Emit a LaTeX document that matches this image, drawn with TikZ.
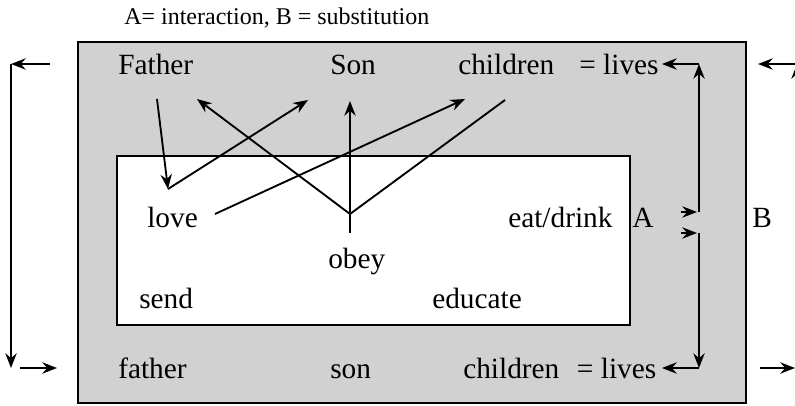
\documentclass[tikz,border=0pt]{standalone}
\usepackage{fontspec}
\setmainfont{Liberation Serif}
\usetikzlibrary{arrows.meta}
\begin{document}
\begin{tikzpicture}[
    x=0.75pt, y=-0.75pt,
    word/.style={inner sep=0pt, anchor=base west, font=\fontsize{22}{26}\selectfont},
    arr/.style={-{Stealth[length=11pt,width=8.5pt]}, line width=1.4pt},
    plain/.style={line width=1.4pt}
]
\useasboundingbox (0,0) rectangle (795,406);

% Boxes
\draw[line width=0.9pt, fill=black!18] (78,42) rectangle (746,403);
\draw[line width=1.4pt, fill=white] (117,156) rectangle (630,325);

% Texts
\node[word, font=\fontsize{18}{21}\selectfont] (title) at (124,25) {A= interaction, B = substitution};
\node[word] (fatherT) at (118,75) {Father};
\node[word] (sonT) at (330,75) {Son};
\node[word] (childT) at (458,75) {children\hspace{0.6em} = lives};
\node[word] (love) at (147,227) {love};
\node[word] (eat) at (508,227) {eat/drink};
\node[word] (labA) at (632,227) {A};
\node[word] (labB) at (752,227) {B};
\node[word] (obey) at (328,268) {obey};
\node[word] (send) at (139,308) {send};
\node[word] (educate) at (432,308) {educate};
\node[word] (fatherB) at (118,378) {father};
\node[word] (sonB) at (330,378) {son};
\node[word] (childB) at (463,378) {children\hspace{0.35em} = lives};

% Arrow ends
\coordinate (f0) at (157,99);
\coordinate (lv) at (168,189);
\coordinate (s1) at (308,100);
\coordinate (ob) at (350,214);
\coordinate (ob0) at (350,233);
\coordinate (s2) at (197,99);
\coordinate (s3) at (350,101);
\coordinate (c1) at (505,100);
\coordinate (lv2) at (215,214);
\coordinate (c2) at (465,99);

% Crossing arrows
\draw[arr] (f0) -- (lv);
\draw[arr] (lv) -- (s1);
\draw[arr] (ob) -- (s2);
\draw[arr] (ob0) -- (s3);
\draw[plain] (ob) -- (c1);
\draw[arr] (lv2) -- (c2);

% Right bracket (A)
\coordinate (rt) at (699,64);
\coordinate (rm1) at (699,212);
\coordinate (rm2) at (699,233);
\coordinate (rb) at (699,368);
\coordinate (lt) at (662,64);
\coordinate (lb) at (662,368);
\coordinate (a1) at (681,212);
\coordinate (a2) at (681,233);
\draw[arr] (rm1) -- (rt);
\draw[arr] (rt) -- (lt);
\draw[arr] (rm2) -- (rb);
\draw[arr] (rb) -- (lb);
\draw[arr] (a1) -- ([xshift=-1.5]rm1);
\draw[arr] (a2) -- ([xshift=-1.5]rm2);

% Outer brackets (B)
\coordinate (ot) at (11,64);
\coordinate (ob1) at (11,368);
\draw[arr] (50,64) coordinate (ot0) -- (ot);
\draw[arr] (ot) -- (ob1);
\draw[arr] (20,368) coordinate (ob2) -- (57,368) coordinate (ob3);
\coordinate (et) at (797,64);
\coordinate (eb) at (797,368);
\draw[arr] (et) -- (758,64) coordinate (et0);
\draw[arr] (eb) -- (et);
\draw[arr] (760,368) coordinate (eb0) -- (795,368) coordinate (eb1);

\end{tikzpicture}
\end{document}
